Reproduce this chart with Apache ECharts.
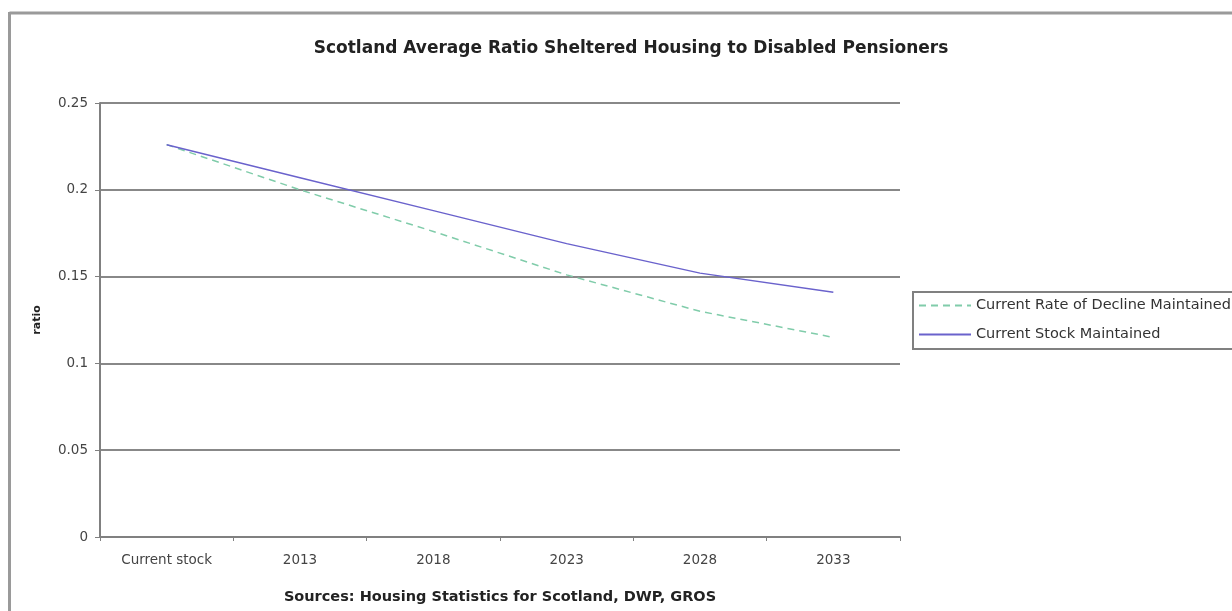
<!DOCTYPE html>
<html>
<head>
<meta charset="utf-8">
<script src="https://cdn.jsdelivr.net/npm/echarts@6/dist/echarts.min.js"></script>
<style>
html,body{margin:0;padding:0;background:#fff;}
#chart{width:1232px;height:611px;}
</style>
</head>
<body>
<div id="chart"></div>
<script>
const categories = ['Current stock', '2013', '2018', '2023', '2028', '2033'];
const declineMaintained = [0.226, 0.200, 0.176, 0.151, 0.130, 0.115];
const stockMaintained = [0.226, 0.207, 0.188, 0.169, 0.152, 0.141];
const seriesNames = ['Current Rate of Decline Maintained', 'Current Stock Maintained'];

const chart = echarts.init(document.getElementById('chart'), null, {renderer: 'canvas'});
const font = '"DejaVu Sans", Arial, sans-serif';
chart.setOption({
  animation: false,
  backgroundColor: '#ffffff',
  title: {
    text: 'Scotland Average Ratio Sheltered Housing to Disabled Pensioners',
    left: 626, top: 35, textAlign: 'center',
    textStyle: {fontFamily: font, fontSize: 17, fontWeight: 'bold', color: '#222'}
  },
  graphic: [
    {type: 'line', shape: {x1: 9.5, y1: 13, x2: 1232, y2: 13}, style: {stroke: '#9a9a9a', lineWidth: 3}},
    {type: 'line', shape: {x1: 9.5, y1: 12, x2: 9.5, y2: 611}, style: {stroke: '#9a9a9a', lineWidth: 3}}
  ],
  legend: {
    orient: 'vertical',
    left: 913, top: 292,
    padding: [6, 60, 7, 5],
    itemWidth: 52, itemHeight: 14, itemGap: 14,
    borderColor: '#808080', borderWidth: 2,
    itemStyle: {opacity: 0},
    textStyle: {fontFamily: font, fontSize: 14.5, color: '#333'},
    data: seriesNames
  },
  grid: {left: 100, right: 332, top: 103, bottom: 74},
  xAxis: {
    type: 'category',
    data: categories,
    boundaryGap: true,
    name: 'Sources: Housing Statistics for Scotland, DWP, GROS',
    nameLocation: 'middle', nameGap: 53,
    nameTextStyle: {fontFamily: font, fontSize: 14.5, fontWeight: 'bold', color: '#222'},
    axisLine: {lineStyle: {color: '#808080', width: 2}},
    axisTick: {show: true, alignWithLabel: false, length: 4, lineStyle: {color: '#808080'}},
    axisLabel: {fontFamily: font, fontSize: 13.5, color: '#444', margin: 16}
  },
  yAxis: {
    type: 'value',
    min: 0, max: 0.25, interval: 0.05,
    name: 'ratio',
    nameLocation: 'middle', nameGap: 57, nameRotate: 90,
    nameTextStyle: {fontFamily: font, fontSize: 11, fontWeight: 'bold', color: '#222'},
    axisLine: {show: true, lineStyle: {color: '#808080', width: 2}},
    axisTick: {show: true, length: 5, lineStyle: {color: '#808080'}},
    axisLabel: {fontFamily: font, fontSize: 13.5, color: '#444', margin: 12,
      formatter: v => String(parseFloat(v.toFixed(2)))},
    splitLine: {show: true, lineStyle: {color: '#888888', width: 2}}
  },
  series: [
    {
      name: seriesNames[0], type: 'line', data: declineMaintained,
      symbol: 'none',
      lineStyle: {color: '#80ccaa', width: 1.5, type: [7, 5]},
      itemStyle: {color: '#80ccaa'}
    },
    {
      name: seriesNames[1], type: 'line', data: stockMaintained,
      symbol: 'none',
      lineStyle: {color: '#6a62cc', width: 1.5},
      itemStyle: {color: '#6a62cc'}
    }
  ]
});
</script>
</body>
</html>
